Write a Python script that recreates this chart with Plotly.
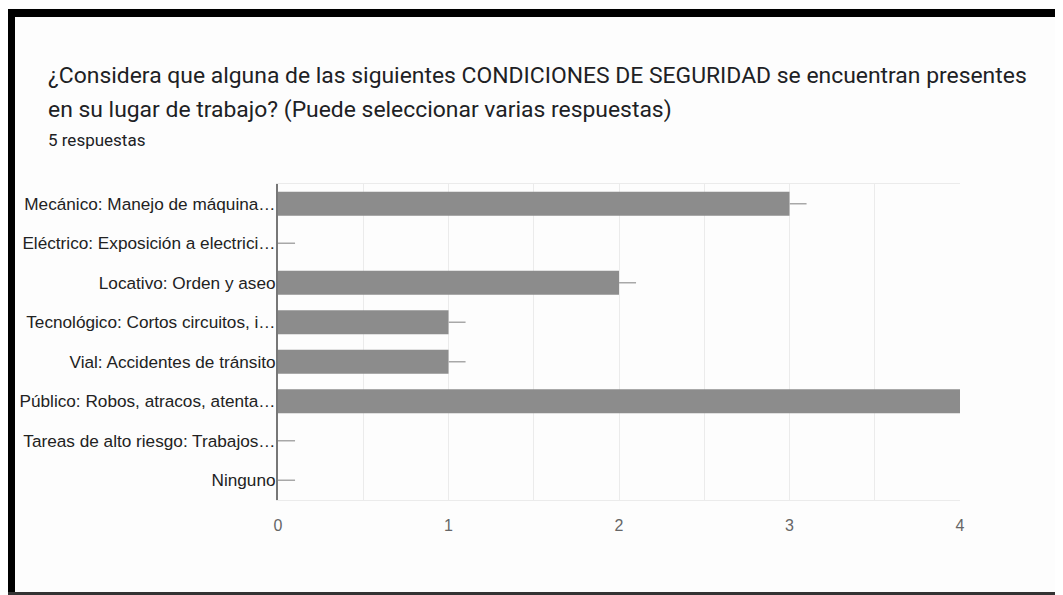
import plotly.graph_objects as go

categorias = [
    "Mecánico: Manejo de máquina…",
    "Eléctrico: Exposición a electrici…",
    "Locativo: Orden y aseo",
    "Tecnológico: Cortos circuitos, i…",
    "Vial: Accidentes de tránsito",
    "Público: Robos, atracos, atenta…",
    "Tareas de alto riesgo: Trabajos…",
    "Ninguno",
]
respuestas = [3, 0, 2, 1, 1, 4, 0, 0]
x_ticks = [0, 1, 2, 3, 4]

titulo_1 = "¿Considera que alguna de las siguientes CONDICIONES DE SEGURIDAD se encuentran presentes"
titulo_2 = "en su lugar de trabajo? (Puede seleccionar varias respuestas)"
subtitulo = "5 respuestas"

# the page body adds 8px around the figure
OFF = 8
W, H = 1063 - OFF, 595 - OFF
L, T = 278 - OFF, 184 - OFF
R, B = W - (960 - OFF), H - (500 - OFF)
PW, PH = W - L - R, H - T - B


def px(x):
    return (x - OFF - L) / PW


def py(y):
    return (H - B - (y - OFF)) / PH


fig = go.Figure(
    go.Bar(
        y=categorias,
        x=respuestas,
        orientation="h",
        marker_color="#8c8c8c",
        marker_line_width=0,
        error_x=dict(
            type="data",
            symmetric=False,
            array=[0.1] * len(respuestas),
            arrayminus=[0] * len(respuestas),
            width=0,
            color="#a8a8a8",
            thickness=1.5,
        ),
        hoverinfo="x+y",
    )
)

fig.update_layout(
    width=W,
    height=H,
    margin=dict(l=L, r=R, t=T, b=B, autoexpand=False),
    paper_bgcolor="#fdfdfd",
    plot_bgcolor="#fdfdfd",
    showlegend=False,
    bargap=0.39,
    font=dict(family="Liberation Sans, Arial", size=17, color="#222222"),
)

fig.update_xaxes(
    range=[0, 4],
    tickvals=x_ticks,
    tickfont=dict(color="#666666", size=16),
    ticklabelstandoff=11,
    showgrid=True,
    gridcolor="#ebebeb",
    gridwidth=1,
    minor=dict(dtick=0.5, showgrid=True, gridcolor="#ebebeb"),
    showline=True,
    linecolor="#ebebeb",
    linewidth=1,
    mirror=True,
    zeroline=False,
    automargin=False,
    fixedrange=True,
)

fig.update_yaxes(
    autorange="reversed",
    showline=True,
    linecolor="#777777",
    linewidth=2,
    ticks="",
    tickfont=dict(color="#222222", size=17.2),
    ticklabelstandoff=-3,
    showgrid=False,
    automargin=False,
    fixedrange=True,
)

# titles
for txt, y, size in [(titulo_1, 76, 22.9), (titulo_2, 109, 22.9), (subtitulo, 140, 17)]:
    fig.add_annotation(
        text=txt,
        xref="paper",
        yref="paper",
        x=px(46),
        y=py(y),
        xanchor="left",
        yanchor="middle",
        showarrow=False,
        font=dict(family="Roboto, Open Sans", size=size, color="#202124"),
    )

# black frame of the screenshot
fig.add_shape(type="rect", xref="paper", yref="paper",
              x0=px(7), x1=px(1063), y0=py(17), y1=py(9),
              fillcolor="#000000", line_width=0, layer="above")
fig.add_shape(type="rect", xref="paper", yref="paper",
              x0=px(7), x1=px(15), y0=py(595), y1=py(9),
              fillcolor="#000000", line_width=0, layer="above")
fig.add_shape(type="rect", xref="paper", yref="paper",
              x0=px(7), x1=px(1063), y0=py(595), y1=py(592),
              fillcolor="#333333", line_width=0, layer="above")

fig.write_html("out.html", config={"displayModeBar": False})
